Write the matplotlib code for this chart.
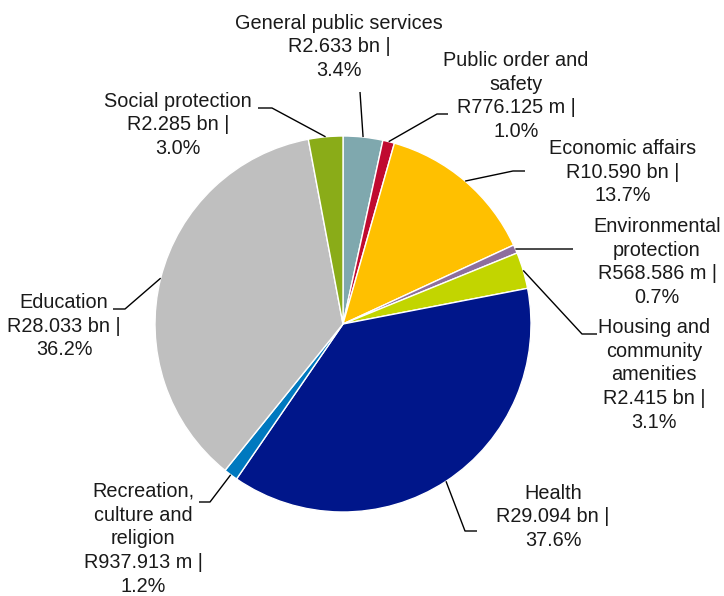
import numpy as np
import matplotlib
matplotlib.use("Agg")
import matplotlib.pyplot as plt

plt.rcParams['font.family'] = ['Liberation Sans', 'DejaVu Sans']

# spending by function, R million
names = ["General public services", "Public order and\nsafety", "Economic affairs",
         "Environmental\nprotection", "Housing and\ncommunity\namenities", "Health",
         "Recreation,\nculture and\nreligion", "Education", "Social protection"]
amounts = [2633, 776.125, 10590, 568.586, 2415, 29094, 937.913, 28033, 2285]
colors = ["#7FA8AE", "#C00A30", "#FFC000", "#8D6E9E", "#C2D500",
          "#00168A", "#0079BF", "#BFBFBF", "#8AAC18"]

# label block centres and leader knee/end points (pixels, y from top)
label_xy = [(339, 47), (516, 96), (623, 172), (657, 262), (654, 375),
            (553, 517), (143, 539), (64, 326), (178, 125)]
knees = [(360, 92), (437, 114), (513, 171), (573, 249), (582, 334),
         (465, 531), (210, 502), (125, 309), (272, 108)]
ends = [(360, 92), (448, 114), (525, 171), (573, 249), (597, 334),
        (477, 531), (199, 502), (113, 309), (258, 108)]

W, H = 724, 596
cx, cy, r = 343, 324, 188


def fmt(v):
    if v >= 1000:
        return "R%.3f bn |" % (v / 1000)
    return "R%.3f m |" % v


fig = plt.figure(figsize=(W / 100, H / 100), dpi=100)
ax = fig.add_axes([0, 0, 1, 1])
wedges, _ = ax.pie(amounts, colors=colors, startangle=90, counterclock=False,
                   center=(cx, H - cy), radius=r,
                   wedgeprops=dict(edgecolor="white", linewidth=1))
ax.set_xlim(0, W)
ax.set_ylim(0, H)
ax.set_aspect("equal")
ax.axis("off")

total = sum(amounts)
for i, w in enumerate(wedges):
    mid = np.deg2rad((w.theta1 + w.theta2) / 2)
    sx = cx + r * np.cos(mid)
    sy = (H - cy) + r * np.sin(mid)
    kx, ky = knees[i]
    ex, ey = ends[i]
    ax.plot([sx, kx, ex], [sy, H - ky, H - ey], color="black", lw=1,
            solid_capstyle="butt")
    txt = "%s\n%s\n%.1f%%" % (names[i], fmt(amounts[i]), amounts[i] / total * 100)
    lx, ly = label_xy[i]
    ax.text(lx, H - ly, txt, ha="center", va="center", fontsize=14.3,
            color="#1a1a1a", linespacing=1.32)

fig.savefig("out.png", dpi=100)
